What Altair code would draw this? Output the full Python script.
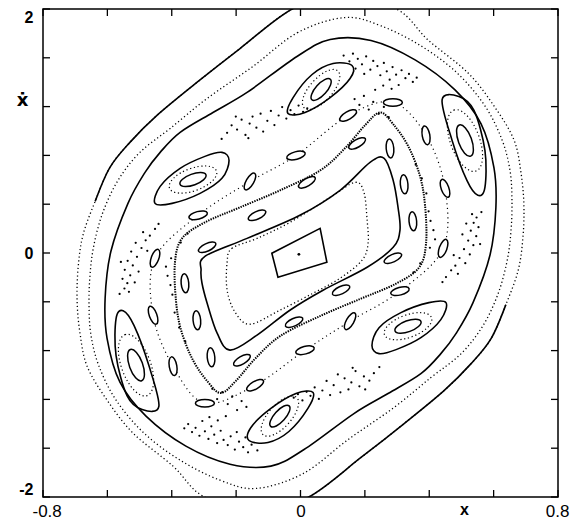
import altair as alt
import pandas as pd

# ---------------- data (x, x-dot) ----------------
# outermost invariant curve (solid on the diagonals, dotted on the sides)
O1_X = [0.141, -0.023, -0.188, -0.322, -0.446, -0.530, -0.592, -0.638, -0.676, -0.691, -0.694,
        -0.685, -0.663, -0.601, -0.520, -0.396, -0.303, -0.141, 0.023, 0.188, 0.322, 0.446,
        0.530, 0.592, 0.638, 0.676, 0.691, 0.694, 0.685, 0.663, 0.601, 0.520, 0.396, 0.303]
O1_Y = [2.135, 2.004, 1.676, 1.398, 1.128, 0.907, 0.702, 0.423, 0.145, -0.125, -0.396,
        -0.658, -0.928, -1.206, -1.477, -1.747, -1.993, -2.132, -2.004, -1.676, -1.398, -1.128,
        -0.907, -0.702, -0.423, -0.145, 0.125, 0.396, 0.658, 0.928, 1.206, 1.477, 1.747, 1.993]

# second (dotted) curve
O2_X = [0.138, -0.008, -0.148, -0.290, -0.405, -0.499, -0.567, -0.614, -0.642, -0.654, -0.657,
        -0.651, -0.626, -0.573, -0.486, -0.374, -0.250, -0.138, 0.008, 0.148, 0.290, 0.405,
        0.499, 0.567, 0.614, 0.642, 0.654, 0.657, 0.651, 0.626, 0.573, 0.486, 0.374, 0.250]
O2_Y = [1.930, 1.808, 1.529, 1.267, 1.021, 0.825, 0.595, 0.333, 0.063, -0.183, -0.428,
        -0.674, -0.928, -1.206, -1.477, -1.698, -1.862, -1.930, -1.808, -1.529, -1.267, -1.021,
        -0.825, -0.595, -0.333, -0.063, 0.183, 0.428, 0.674, 0.928, 1.206, 1.477, 1.698, 1.862]

# solid curve enclosing the chain of six large islands
O3_X = [0.219, 0.092, -0.011, -0.166, -0.272, -0.374, -0.436, -0.483, -0.536, -0.589, -0.607,
        -0.601, -0.561, -0.480, -0.356, -0.219, -0.092, 0.011, 0.166, 0.272, 0.374, 0.436,
        0.483, 0.536, 0.589, 0.607, 0.601, 0.561, 0.480, 0.356]
O3_Y = [1.742, 1.750, 1.611, 1.316, 1.152, 0.989, 0.825, 0.661, 0.407, 0.014, -0.371,
        -0.699, -1.059, -1.337, -1.583, -1.731, -1.747, -1.611, -1.316, -1.152, -0.989, -0.825,
        -0.661, -0.407, -0.014, 0.371, 0.699, 1.059, 1.337, 1.583]

# inner boundary of the chaotic layer
L4_X = [0.247, 0.200, 0.138, 0.061, -0.064, -0.188, -0.297, -0.368, -0.390, -0.387, -0.371,
        -0.334, -0.287, -0.247, -0.200, -0.138, -0.061, 0.064, 0.188, 0.297, 0.368, 0.390,
        0.387, 0.371, 0.334, 0.287]
L4_Y = [1.152, 1.046, 0.858, 0.677, 0.513, 0.374, 0.251, 0.120, -0.076, -0.387, -0.633,
        -0.879, -1.059, -1.148, -1.046, -0.858, -0.677, -0.513, -0.374, -0.251, -0.120, 0.076,
        0.387, 0.633, 0.879, 1.059]

# solid rounded parallelogram
L3_X = [-0.309, -0.297, -0.166, -0.002, 0.123, 0.216, 0.260, 0.288, 0.303, 0.309, 0.288,
        0.207, 0.070, -0.033, -0.135, -0.219, -0.259, -0.290, -0.306]
L3_Y = [-0.142, -0.027, 0.120, 0.309, 0.514, 0.743, 0.776, 0.595, 0.374, 0.186, 0.047,
        -0.117, -0.305, -0.469, -0.673, -0.796, -0.657, -0.412, -0.248]

# dotted rounded parallelogram
L2_X = [-0.228, -0.213, -0.135, -0.033, 0.092, 0.169, 0.197, 0.207, 0.210, 0.191, 0.123,
        0.039, -0.064, -0.157, -0.203, -0.228]
L2_Y = [-0.076, 0.038, 0.120, 0.251, 0.456, 0.579, 0.497, 0.268, 0.079, -0.060, -0.207,
        -0.330, -0.469, -0.584, -0.486, -0.305]

# small central quadrilateral and the fixed point
L1_X = [-0.089, -0.070, 0.082, 0.061]
L1_Y = [-0.002, -0.199, -0.076, 0.202]
FP_X = [-0.005]
FP_Y = [-0.011]

# outer loops of the six large islands
I1_X = [-0.452, -0.436, -0.374, -0.297, -0.244, -0.222, -0.244, -0.312, -0.399]
I1_Y = [0.407, 0.546, 0.694, 0.792, 0.825, 0.759, 0.612, 0.489, 0.407]
I4_X = [0.452, 0.436, 0.374, 0.297, 0.244, 0.222, 0.244, 0.312, 0.399]
I4_Y = [-0.407, -0.546, -0.694, -0.792, -0.825, -0.759, -0.612, -0.489, -0.407]
I2_X = [-0.039, -0.023, 0.036, 0.101, 0.160, 0.154, 0.092, 0.014]
I2_Y = [1.143, 1.274, 1.463, 1.553, 1.537, 1.430, 1.274, 1.152]
I5_X = [0.039, 0.023, -0.036, -0.101, -0.160, -0.154, -0.092, -0.014]
I5_Y = [-1.143, -1.274, -1.463, -1.553, -1.537, -1.430, -1.274, -1.152]
I3_X = [0.440, 0.492, 0.539, 0.573, 0.573, 0.551, 0.517, 0.471]
I3_Y = [1.258, 1.283, 1.169, 0.841, 0.538, 0.473, 0.595, 0.923]
I6_X = [-0.440, -0.492, -0.539, -0.573, -0.573, -0.551, -0.517, -0.471]
I6_Y = [-1.258, -1.283, -1.169, -0.841, -0.538, -0.473, -0.595, -0.923]

# centres and tilt of the large-island cores
CORE_X = [-0.334, 0.064, 0.334, -0.064]
CORE_Y = [0.602, 1.340, -0.600, -1.337]
CORE_A = [340, 312, 340, 312]
CORE_V_X = [0.511, -0.511]
CORE_V_Y = [0.922, -0.919]
CORE_V_A = [70, 70]

# small islands: inner chain (A) and outer chain (B), tilt in degrees
SA_X = [-0.290, -0.135, 0.020, 0.176, 0.278, 0.322, 0.349, 0.287, 0.126, -0.020, -0.182,
        -0.278, -0.322, -0.359]
SA_Y = [0.047, 0.309, 0.579, 0.898, 0.857, 0.563, 0.260, -0.043, -0.305, -0.567, -0.879,
        -0.855, -0.551, -0.248]
SA_A = [335, 335, 330, 330, 85, 85, 85, 335, 335, 335, 330, 85, 85, 85]
SB_X = [0.287, 0.148, -0.014, -0.157, -0.318, -0.452, -0.458, -0.396, -0.297, -0.141, 0.014,
        0.154, 0.309, 0.443, 0.449, 0.390]
SB_Y = [1.234, 1.127, 0.799, 0.586, 0.309, -0.043, -0.510, -0.928, -1.231, -1.084, -0.797,
        -0.559, -0.313, 0.038, 0.530, 0.964]
SB_A = [0, 330, 345, 300, 345, 290, 70, 80, 0, 330, 345, 300, 345, 290, 70, 80]

# scattered points of the chaotic layer
CH_X = [-0.245, -0.228, -0.214, -0.197, -0.183, -0.171, -0.158, -0.149, -0.137, -0.124, -0.116,
        -0.103, -0.092, -0.081, -0.068, -0.057, -0.044, -0.031, -0.019, -0.006, 0.008, 0.021,
        -0.201, -0.162,
        0.134, 0.152, 0.163, 0.178, 0.191, 0.204, 0.217, 0.226, 0.239, 0.248, 0.259, 0.268,
        0.277, 0.286, 0.297, 0.305, 0.314, 0.326, 0.337, 0.349, 0.361, 0.232, 0.257, 0.198,
        0.283, 0.171,
        0.168, 0.183, 0.197, 0.212, 0.226, 0.243, 0.259, 0.274,
        0.562, 0.547, 0.538, 0.553, 0.529, 0.546, 0.521, 0.537, 0.508, 0.526, 0.494, 0.512,
        0.481, 0.468, 0.489, 0.452, 0.441, 0.558, 0.503, 0.476, 0.533, 0.515,
        0.402, 0.413, 0.398, 0.391, 0.377, 0.358, 0.372, 0.351, 0.418, 0.404,
        0.245, 0.228, 0.214, 0.197, 0.183, 0.171, 0.158, 0.149, 0.137, 0.124, 0.116,
        0.103, 0.092, 0.081, 0.068, 0.057, 0.044, 0.031, 0.019, 0.006, -0.008, -0.021,
        0.201, 0.162,
        -0.134, -0.152, -0.163, -0.178, -0.191, -0.204, -0.217, -0.226, -0.239, -0.248, -0.259,
        -0.268, -0.277, -0.286, -0.297, -0.305, -0.314, -0.326, -0.337, -0.349, -0.361, -0.232,
        -0.257, -0.198, -0.283, -0.171,
        -0.168, -0.183, -0.197, -0.212, -0.226, -0.243, -0.259, -0.274,
        -0.562, -0.547, -0.538, -0.553, -0.529, -0.546, -0.521, -0.537, -0.508, -0.526, -0.494,
        -0.512, -0.481, -0.468, -0.489, -0.452, -0.441, -0.558, -0.503, -0.476, -0.533, -0.515,
        -0.402, -0.413, -0.398, -0.391, -0.377, -0.358, -0.372, -0.351, -0.418, -0.404]
CH_Y = [0.935, 0.985, 1.047, 1.012, 1.093, 0.968, 1.061, 1.118, 1.027, 1.142, 0.995,
        1.083, 1.164, 1.049, 1.127, 1.196, 1.102, 1.171, 1.138, 1.208, 1.157, 1.186,
        1.118, 0.941,
        1.618, 1.571, 1.634, 1.592, 1.547, 1.611, 1.503, 1.574, 1.532, 1.457, 1.558, 1.489,
        1.421, 1.524, 1.462, 1.377, 1.498, 1.433, 1.468, 1.402, 1.437, 1.338, 1.372, 1.468,
        1.346, 1.512,
        1.262, 1.214, 1.287, 1.176, 1.238, 1.141, 1.197, 1.113,
        0.336, 0.291, 0.247, 0.212, 0.183, 0.138, 0.102, 0.064, 0.031, -0.012, -0.041, -0.083,
        -0.104, -0.142, -0.171, -0.197, -0.238, 0.073, 0.152, -0.018, 0.318, 0.241,
        0.043, 0.187, 0.342, 0.488, 0.611, 0.724, -0.086, -0.158, 0.112, 0.263,
        -0.935, -0.985, -1.047, -1.012, -1.093, -0.968, -1.061, -1.118, -1.027, -1.142, -0.995,
        -1.083, -1.164, -1.049, -1.127, -1.196, -1.102, -1.171, -1.138, -1.208, -1.157, -1.186,
        -1.118, -0.941,
        -1.618, -1.571, -1.634, -1.592, -1.547, -1.611, -1.503, -1.574, -1.532, -1.457, -1.558,
        -1.489, -1.421, -1.524, -1.462, -1.377, -1.498, -1.433, -1.468, -1.402, -1.437, -1.338,
        -1.372, -1.468, -1.346, -1.512,
        -1.262, -1.214, -1.287, -1.176, -1.238, -1.141, -1.197, -1.113,
        -0.336, -0.291, -0.247, -0.212, -0.183, -0.138, -0.102, -0.064, -0.031, 0.012, 0.041,
        0.083, 0.104, 0.142, 0.171, 0.197, 0.238, -0.073, -0.152, 0.018, -0.318, -0.241,
        -0.043, -0.187, -0.342, -0.488, -0.611, -0.724, 0.086, 0.158, -0.112, -0.263]

TICKS_X = [-0.8, -0.6, -0.4, -0.2, 0, 0.2, 0.4, 0.6, 0.8]
TICKS_Y = [-2, -1.6, -1.2, -0.8, -0.4, 0, 0.4, 0.8, 1.2, 1.6, 2]
LABELS_X = [-0.8, 0, 0.8]
LABELS_Y = [-2, 0, 2]

# ---------------- helpers ----------------
def curves(pairs):
    rows = []
    for name, xs, ys in pairs:
        for i, (a, b) in enumerate(zip(xs, ys)):
            rows.append({"name": name, "ord": i, "x": a, "y": b})
    return pd.DataFrame(rows)

def pts(xs, ys, a=None):
    d = {"x": xs, "y": ys}
    if a is not None:
        d["a"] = a
    return pd.DataFrame(d)

XS = alt.Scale(domain=[-0.8, 0.8], nice=False, zero=False)
YS = alt.Scale(domain=[-2, 2], nice=False, zero=False)
FONT = "Liberation Sans"
LBL = "datum.value == 0 ? '0' : replace(datum.label, '\u2212', '-')"

label_x = alt.Axis(orient="bottom", values=LABELS_X, ticks=False, domain=False, grid=False,
                   labelExpr=LBL, labelFont=FONT, labelFontSize=17, labelColor="black",
                   labelPadding=6, labelFlush=True, labelFlushOffset=11,
                   title="x", titleX=421, titleY=12,
                   titleAlign="center", titleBaseline="middle", titleFont=FONT,
                   titleFontSize=16, titleFontWeight="bold", titleColor="black")
label_y = alt.Axis(orient="left", values=LABELS_Y, ticks=False, domain=False, grid=False,
                   labelExpr=LBL, labelFont=FONT, labelFontSize=16, labelFontWeight="bold",
                   labelColor="black", labelPadding=10, labelFlush=True, title="ẋ",
                   titleAngle=0, titleX=-21, titleY=91, titleAlign="center",
                   titleBaseline="middle", titleFont="DejaVu Sans", titleFontSize=18,
                   titleFontWeight="bold", titleColor="black")

def enc(chart, ax_x=None, ax_y=None, line=True):
    e = dict(x=alt.X("x:Q", scale=XS, axis=ax_x), y=alt.Y("y:Q", scale=YS, axis=ax_y))
    if line:
        e["order"] = alt.Order("ord:Q")
        e["detail"] = alt.Detail("name:N")
    return chart.encode(**e)

DOT = dict(strokeDash=[1.2, 2.6], strokeWidth=1.3, color="black", clip=True)
SOLID = dict(strokeWidth=1.6, color="black", clip=True)

layers = []
# outer dotted loops (carry the label axes)
layers.append(enc(alt.Chart(curves([("o1", O1_X, O1_Y), ("o2", O2_X, O2_Y)]))
                  .mark_line(interpolate="cardinal-closed", **DOT), label_x, label_y))
# solid stretches of the outermost curve
layers.append(enc(alt.Chart(curves([("o1a", O1_X[0:8], O1_Y[0:8]),
                                    ("o1b", O1_X[17:25], O1_Y[17:25])]))
                  .mark_line(interpolate="cardinal", **SOLID)))
# solid enclosing curve and the solid parallelogram
layers.append(enc(alt.Chart(curves([("o3", O3_X, O3_Y), ("l3", L3_X, L3_Y)]))
                  .mark_line(interpolate="cardinal-closed", **SOLID)))
# large-island outer loops
layers.append(enc(alt.Chart(curves([("i1", I1_X, I1_Y), ("i2", I2_X, I2_Y), ("i3", I3_X, I3_Y),
                                    ("i4", I4_X, I4_Y), ("i5", I5_X, I5_Y), ("i6", I6_X, I6_Y)]))
                  .mark_line(interpolate="cardinal-closed", **SOLID)))
# sparse dotted layer joining the outer chain of small islands
layers.append(enc(alt.Chart(curves([("sb", SB_X, SB_Y)]))
                  .mark_line(interpolate="cardinal-closed", strokeDash=[1.1, 3.6],
                             strokeWidth=1.2, color="black", clip=True)))
# chaotic-layer boundary
layers.append(enc(alt.Chart(curves([("l4", L4_X, L4_Y)]))
                  .mark_line(interpolate="cardinal-closed", strokeDash=[1.4, 1.1],
                             strokeWidth=2.0, color="black", clip=True)))
# inner dotted parallelogram
layers.append(enc(alt.Chart(curves([("l2", L2_X, L2_Y)]))
                  .mark_line(interpolate="cardinal-closed", **DOT)))
# central quadrilateral
layers.append(enc(alt.Chart(curves([("l1", L1_X, L1_Y)]))
                  .mark_line(interpolate="linear-closed", **SOLID)))

ELL = "M-1,0A1,0.4,0,1,1,1,0A1,0.4,0,1,1,-1,0Z"
ELL_W = "M-1,0A1,0.45,0,1,1,1,0A1,0.45,0,1,1,-1,0Z"

def islands(df, size, shape, **kw):
    return enc(alt.Chart(df).mark_point(shape=shape, size=size, filled=True, fill="white",
                                        stroke="black", opacity=1, fillOpacity=1, clip=True,
                                        **kw),
               line=False).encode(angle=alt.Angle("a:Q", scale=None))

def rings(df, size, shape, **kw):
    return enc(alt.Chart(df).mark_point(shape=shape, size=size, filled=False, color="black",
                                        opacity=1, clip=True, **kw),
               line=False).encode(angle=alt.Angle("a:Q", scale=None))

layers.append(islands(pts(SA_X, SA_Y, SA_A), 360, ELL, strokeWidth=1.5))
layers.append(islands(pts(SB_X, SB_Y, SB_A), 360, ELL, strokeWidth=1.5))
layers.append(rings(pts(CORE_X, CORE_Y, CORE_A), 760, ELL, strokeWidth=1.5))
layers.append(rings(pts(CORE_X, CORE_Y, CORE_A), 2500, ELL_W, strokeWidth=1.2,
                    strokeDash=[1.2, 2.6]))
layers.append(rings(pts(CORE_V_X, CORE_V_Y, CORE_V_A), 1100, ELL, strokeWidth=1.5))
layers.append(rings(pts(CORE_V_X, CORE_V_Y, CORE_V_A), 4200, ELL_W, strokeWidth=1.2,
                    strokeDash=[1.2, 2.6]))
# chaotic scatter and the fixed point
layers.append(enc(alt.Chart(pts(CH_X, CH_Y)).mark_circle(size=5, color="black", opacity=1,
                                                          clip=True), line=False))
layers.append(enc(alt.Chart(pts(FP_X, FP_Y)).mark_circle(size=8, color="black", opacity=1),
                  line=False))

# inward frame ticks on all four sides
tx = pd.DataFrame({"t": TICKS_X})
ty = pd.DataFrame({"t": TICKS_Y})
TX = alt.X("t:Q", scale=XS, axis=None)
TY = alt.Y("t:Q", scale=YS, axis=None)
RULE = dict(color="black", strokeWidth=1.3)
layers.append(alt.Chart(tx).mark_rule(**RULE).encode(x=TX, y=alt.value(0), y2=alt.value(7)))
layers.append(alt.Chart(tx).mark_rule(**RULE).encode(x=TX, y=alt.value(488), y2=alt.value(481)))
layers.append(alt.Chart(ty).mark_rule(**RULE).encode(y=TY, x=alt.value(0), x2=alt.value(7)))
layers.append(alt.Chart(ty).mark_rule(**RULE).encode(y=TY, x=alt.value(515), x2=alt.value(508)))

chart = (alt.layer(*layers)
         .resolve_axis(x="independent", y="independent")
         .properties(width=515, height=488,
                     padding={"left": 35, "top": 1, "right": 12, "bottom": 22},
                     autosize=alt.AutoSizeParams(type="none"),
                     background="white")
         .configure_view(stroke="black", strokeWidth=1.5))

chart.save("out.html", embed_options={"renderer": "svg", "actions": False})
